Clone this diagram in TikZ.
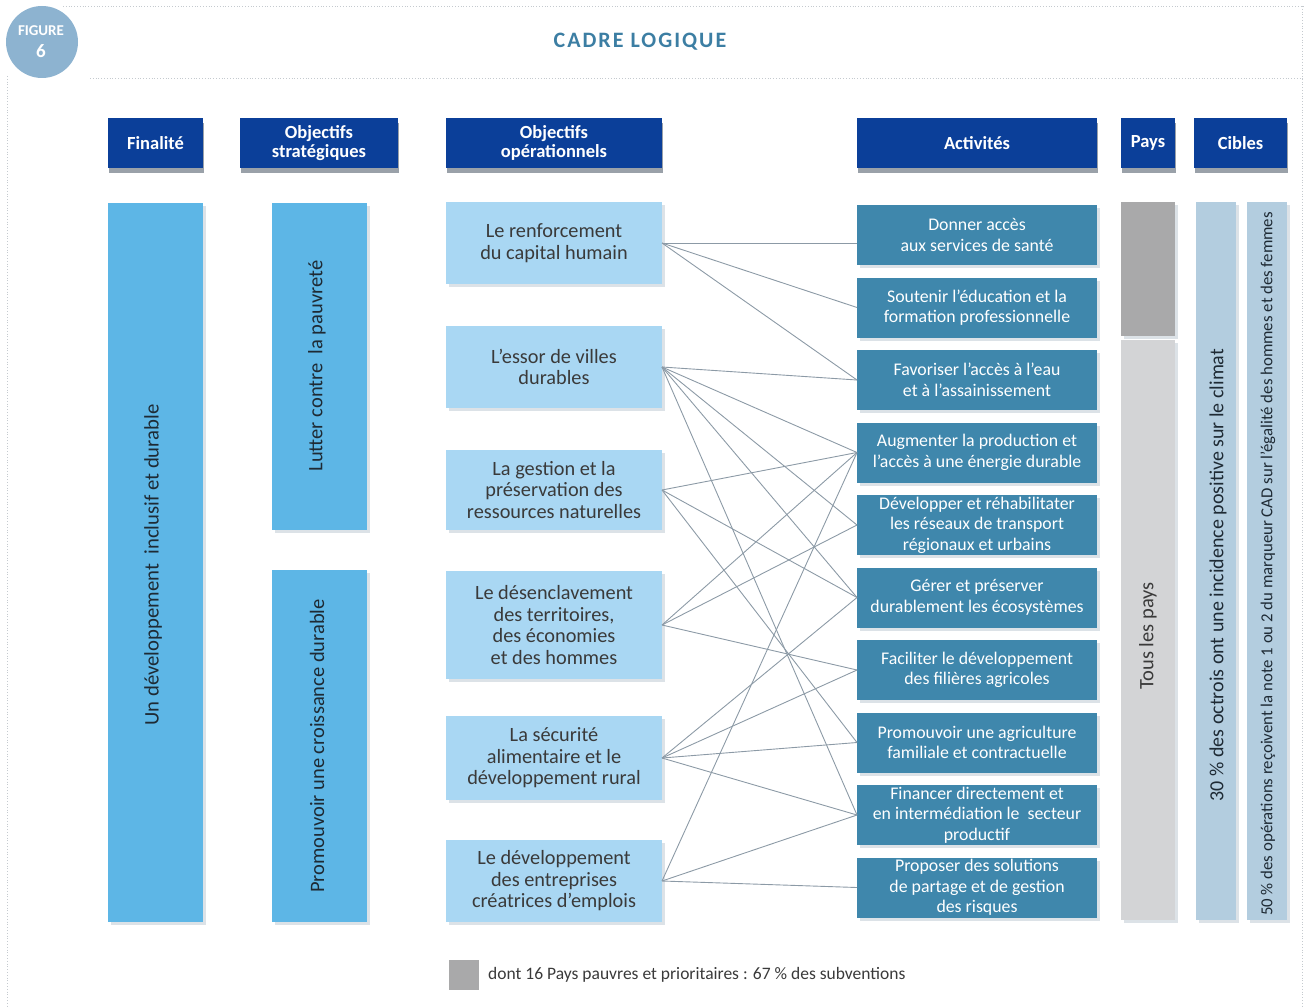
\documentclass[tikz,border=0pt]{standalone}
\usepackage{fontspec}
\setmainfont{Carlito}
\definecolor{hdr}{HTML}{0B3F99}
\definecolor{hshadow}{HTML}{9AA1A9}
\definecolor{fin}{HTML}{5DB6E6}
\definecolor{ope}{HTML}{A9D7F3}
\definecolor{act}{HTML}{3F87AC}
\definecolor{lnk}{HTML}{8C9AA6}
\definecolor{dgrey}{HTML}{A9A9AA}
\definecolor{lgrey}{HTML}{D3D4D6}
\definecolor{cib}{HTML}{B3CDDF}
\definecolor{ttl}{HTML}{3C7EA3}
\definecolor{figc}{HTML}{8DB3D0}
\definecolor{txt}{HTML}{3A3A3A}
\definecolor{dtxt}{HTML}{1E2A34}
\definecolor{bshadow}{HTML}{DCE2E7}
\definecolor{frame}{HTML}{C5CACF}
\newcommand\myfs[2]{\fontsize{#1}{#2}\selectfont}
\tikzset{
  hdrbox/.style={fill=hdr, text=white, font=\bfseries\myfs{18.5}{19}, align=center,
    inner sep=0, outer sep=0, preaction={fill=hshadow, transform canvas={shift={(1pt,-5pt)}}}},
  cbox/.style={inner sep=0, outer sep=0, align=center,
    preaction={fill=bshadow, transform canvas={shift={(3pt,-3pt)}}}},
  finbox/.style={cbox, fill=fin},
  opebox/.style={cbox, fill=ope, text=txt, font=\myfs{20.3}{21.5}, minimum width=216},
  actbox/.style={cbox, fill=act, text=white, font=\myfs{17.8}{20.5}, minimum width=240, minimum height=60},
  rottext/.style={rotate=90, inner sep=0, text=dtxt},
  link/.style={draw=lnk, line width=0.9pt},
  framel/.style={draw=frame, line width=0.8pt, dotted}
}
\begin{document}
\begin{tikzpicture}[x=1pt,y=-1pt]
\useasboundingbox (0,0) rectangle (1305,1006);
% frame
\draw[framel] (63,6) -- (1305,6);
\draw[framel] (90,78) -- (1305,78);
\draw[framel] (7,76) -- (7,1006);
\draw[framel] (1302,6) -- (1302,1006);
% figure badge
\node[circle, fill=figc, minimum size=72, inner sep=0] (badge) at (42,42) {};
\node[text=white, font=\bfseries\myfs{15}{16}] (badgeA) at (41,31) {FIGURE};
\node[text=white, font=\bfseries\myfs{19}{20}] (badgeB) at (41,51) {6};
% title
\node[text=ttl, font=\bfseries\myfs{22}{24}] (title) at (640,42) {\addfontfeatures{LetterSpace=9}CADRE LOGIQUE};
% headers
\node[hdrbox, minimum width=95, minimum height=50] (hFin) at (155.5,143) {Finalité};
\node[hdrbox, minimum width=158, minimum height=50] (hStr) at (319,143) {Objectifs\\stratégiques};
\node[hdrbox, minimum width=216, minimum height=50] (hOpe) at (554,143) {Objectifs\\opérationnels};
\node[hdrbox, minimum width=240, minimum height=50] (hAct) at (977,143) {Activités};
\node[hdrbox, minimum width=54, minimum height=50] (hPay) at (1148,143) {Pays};
\node[hdrbox, minimum width=93, minimum height=50] (hCib) at (1240.5,143) {Cibles};
% finalite
\node[finbox, minimum width=95, minimum height=719] (fin) at (155.5,562.5) {};
\node[rottext, font=\myfs{20.7}{22}] (finT) at (153,565) {Un développement\ \ inclusif et durable};
% strategic
\node[finbox, minimum width=95, minimum height=327] (s1) at (319.5,366.5) {};
\node[rottext, font=\myfs{20.5}{22}] (s1T) at (317,366) {Lutter contre\ \ la pauvreté};
\node[finbox, minimum width=95, minimum height=352] (s2) at (319.5,746) {};
\node[rottext, font=\myfs{20.5}{22}] (s2T) at (317,746) {Promouvoir une croissance durable};
% operational
\node[opebox, minimum height=82] (O1) at (554,243) {Le renforcement\\du capital humain};
\node[opebox, minimum height=82] (O2) at (554,367) {L’essor de villes\\durables};
\node[opebox, minimum height=80] (O3) at (554,490) {La gestion et la\\préservation des\\ressources naturelles};
\node[opebox, minimum height=108] (O4) at (554,625) {Le désenclavement\\des territoires,\\des économies\\et des hommes};
\node[opebox, minimum height=84] (O5) at (554,758) {La sécurité\\alimentaire et le\\développement rural};
\node[opebox, minimum height=82] (O6) at (554,881) {Le développement\\des entreprises\\créatrices d’emplois};
% activities
\node[actbox] (A1) at (977,235) {Donner accès\\aux services de santé};
\node[actbox] (A2) at (977,307.5) {Soutenir l’éducation et la\\formation professionnelle};
\node[actbox] (A3) at (977,380) {Favoriser l’accès à l’eau\\et à l’assainissement};
\node[actbox] (A4) at (977,452.5) {Augmenter la production et\\l’accès à une énergie durable};
\node[actbox] (A5) at (977,525) {Développer et réhabilitater\\les réseaux de transport\\régionaux et urbains};
\node[actbox] (A6) at (977,597.5) {Gérer et préserver\\durablement les écosystèmes};
\node[actbox] (A7) at (977,670) {Faciliter le développement\\des filières agricoles};
\node[actbox] (A8) at (977,742.5) {Promouvoir une agriculture\\familiale et contractuelle};
\node[actbox] (A9) at (977,815) {Financer directement et\\en intermédiation le\ \ secteur\\productif};
\node[actbox] (A10) at (977,887.5) {Proposer des solutions\\de partage et de gestion\\des risques};
% pays
\node[cbox, fill=dgrey, minimum width=54, minimum height=134] (P1) at (1148,269) {};
\node[cbox, fill=lgrey, minimum width=54, minimum height=580] (P2) at (1148,630) {};
\node[rottext, font=\myfs{20.5}{22}, text=txt] (P2T) at (1148,636) {Tous les pays};
% cibles
\node[cbox, fill=cib, minimum width=40, minimum height=718] (C1) at (1216,561) {};
\node[rottext, font=\myfs{20}{22}] (C1T) at (1218,575) {30 \% des octrois ont une incidence positive sur le climat};
\node[cbox, fill=cib, minimum width=40, minimum height=718] (C2) at (1267,561) {};
\node[rottext, font=\myfs{16.8}{18}] (C2T) at (1268,564) {50 \% des opérations reçoivent la note 1 ou 2 du marqueur CAD sur l’égalité des hommes et des femmes};
% legend
\node[fill=dgrey, minimum size=30, inner sep=0] (leg) at (464,975) {};
\node[anchor=west, inner sep=0, text=txt, font=\myfs{17.5}{19}] (legT) at (488,975) {dont 16 Pays pauvres et prioritaires : 67 \% des subventions};
% links
\draw[link] (O1.east) -- (O1.east -| A1.west);
\foreach \a in {2,3} \draw[link] (O1.east) -- (A\a.west);
\foreach \a in {3,4,5,6,9} \draw[link] (O2.east) -- (A\a.west);
\foreach \a in {4,6,8} \draw[link] (O3.east) -- (A\a.west);
\foreach \a in {4,5,7} \draw[link] (O4.east) -- (A\a.west);
\foreach \a in {6,7,8,9} \draw[link] (O5.east) -- (A\a.west);
\foreach \a in {4,9,10} \draw[link] (O6.east) -- (A\a.west);
\end{tikzpicture}
\end{document}
